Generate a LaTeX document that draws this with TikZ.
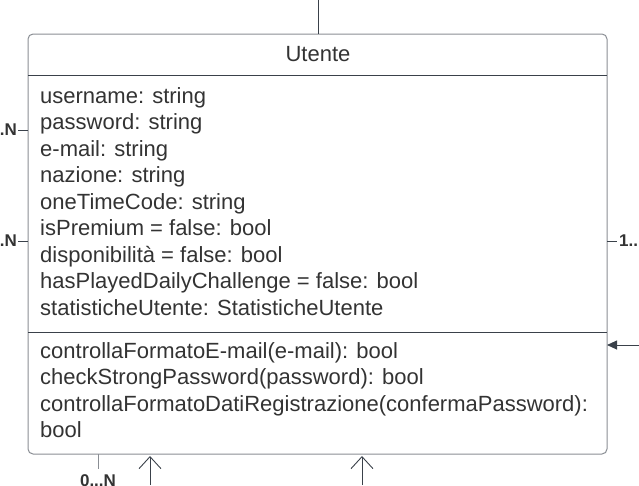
\documentclass[tikz,border=0pt]{standalone}
\usepackage{fontspec}
\setmainfont{Liberation Sans}
\usetikzlibrary{arrows.meta}
\definecolor{umltext}{HTML}{333333}
\definecolor{umlline}{HTML}{3A414A}
\definecolor{umlgray}{HTML}{8A8E94}
\begin{document}
\begin{tikzpicture}[x=1pt,y=-1pt,
    attr/.style={anchor=base west, inner sep=0pt, text=umltext, font=\fontsize{22}{22}\selectfont},
    mult/.style={inner sep=0pt, text=umltext, font=\bfseries\fontsize{17}{17}\selectfont},
    conn/.style={umlline, line width=0.9pt}]
    \useasboundingbox (0,0) rectangle (639,485);

    % class box
    \draw [umlgray, line width=1pt, rounded corners=5pt] (28,34) rectangle (607,454);
    \coordinate (top) at (318,34);
    \draw [conn] (28,75) -- (607,75);
    \draw [conn] (28,332) -- (607,332);
    \node(title) [attr, anchor=base] at (318,61) {Utente};

    % attributes
    \node(a1) [attr] at (40,103)   {username: string};
    \node(a2) [attr] at (40,129.5) {password: string};
    \node(a3) [attr] at (40,156)   {e-mail: string};
    \node(a4) [attr] at (40,182.5) {nazione: string};
    \node(a5) [attr] at (40,209)   {oneTimeCode: string};
    \node(a6) [attr] at (40,235.5) {isPremium = false: bool};
    \node(a7) [attr] at (40,262)   {disponibilità = false: bool};
    \node(a8) [attr] at (40,288.5) {hasPlayedDailyChallenge = false: bool};
    \node(a9) [attr] at (40,315)   {statisticheUtente: StatisticheUtente};

    % methods
    \node(m1) [attr] at (40,358)   {controllaFormatoE-mail(e-mail): bool};
    \node(m2) [attr] at (40,384.5) {checkStrongPassword(password): bool};
    \node(m3) [attr] at (40,411)   {controllaFormatoDatiRegistrazione(confermaPassword):};
    \node(m4) [attr] at (40,437.5) {bool};

    % connectors
    \coordinate (l1) at (28,130);
    \coordinate (l2) at (28,241);
    \coordinate (r1) at (607,241);
    \coordinate (r2) at (607,345);
    \coordinate (b1) at (98,454);
    \coordinate (b2) at (150,456);
    \coordinate (b3) at (362,456);

    \draw [conn] (top) -- (318,0);
    \draw [conn] (l1) -- (18,130);
    \draw [conn] (l2) -- (18,241);
    \draw [conn] (r1) -- (617,241);
    \draw [conn, -{Triangle[length=10pt, width=9pt]}] (639,345) -- (r2);
    \draw [umlgray, line width=0.9pt] (b1) -- (98,469);
    \draw [conn, -{Straight Barb[length=12pt, width=22pt]}] (150,485) -- (b2);
    \draw [conn, -{Straight Barb[length=12pt, width=22pt]}] (362,485) -- (b3);

    % multiplicities
    \node(n1) [mult, anchor=east] at (17,130) {0..N};
    \node(n2) [mult, anchor=east] at (17,241) {0...N};
    \node(n3) [mult, anchor=west] at (619,241) {1..N};
    \node(n4) [mult, anchor=base] at (98,486) {0...N};
\end{tikzpicture}
\end{document}
